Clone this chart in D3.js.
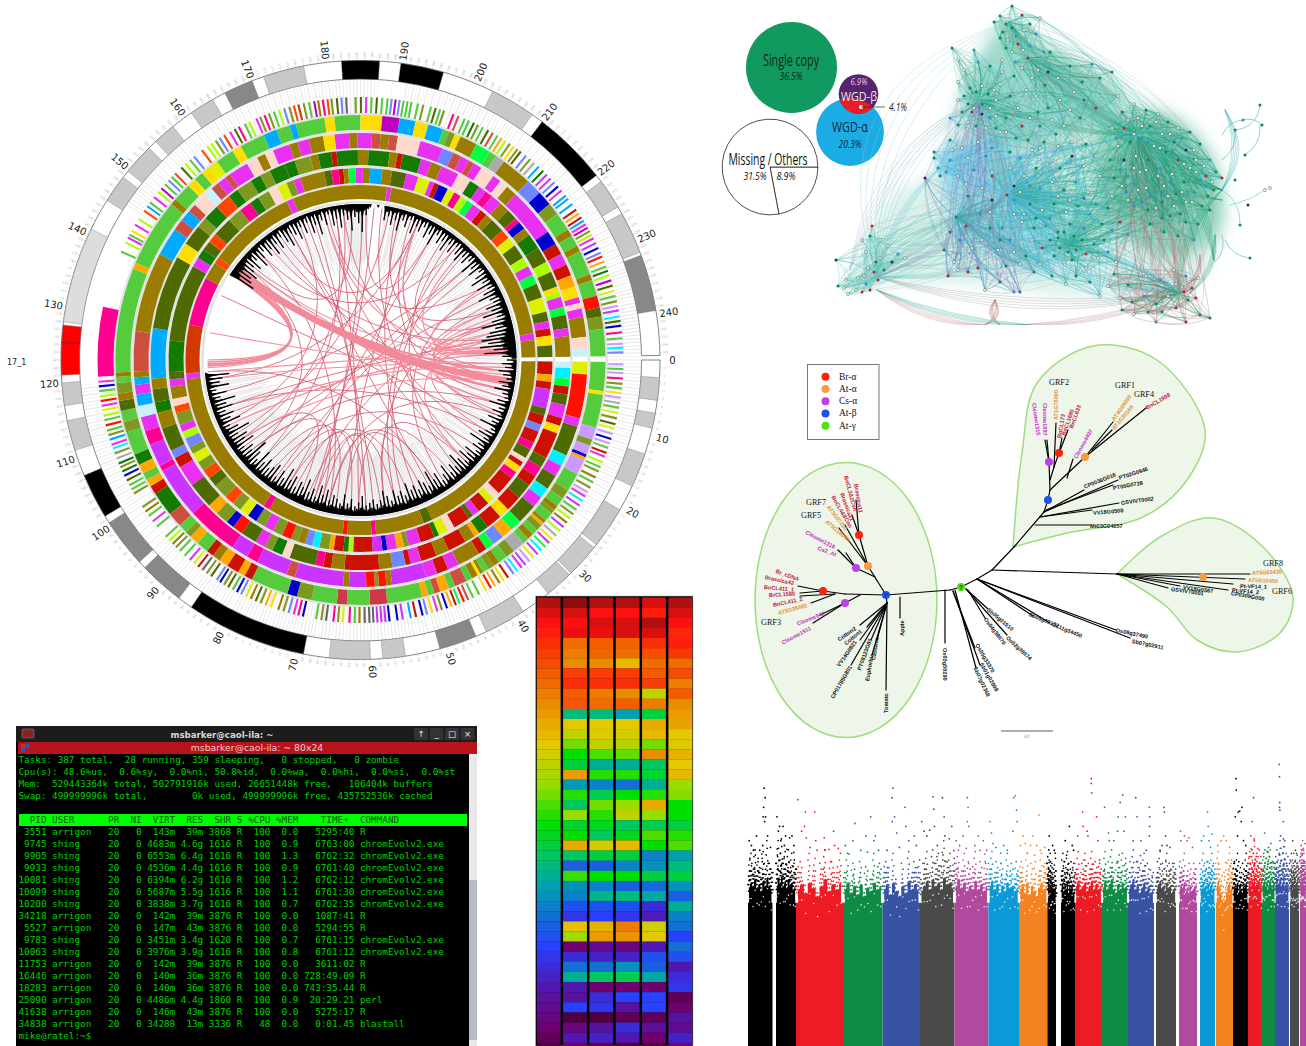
<!DOCTYPE html>
<html>
<head>
<meta charset="utf-8">
<title>Genome figure panels</title>
<script src="https://cdn.jsdelivr.net/npm/d3@7"></script>
<style>
  html, body { margin: 0; background: #fff; }
  svg { display: block; }
</style>
</head>
<body>
<svg width="1306" height="1046"></svg>
<script>
// ---------- circos data (positions in map units, 0-246 round the circle)
const ringPalette = {o:'#9a7d00',d:'#4f6a00',g:'#55cc3e',G:'#147a00',m:'#e830f0',M:'#cc33ff',p:'#ff0090',r:'#ff1000',R:'#cc1100',
  a:'#ffa800',y:'#ffdd00',Y:'#ddf000',l:'#aaff00',b:'#00aaff',B:'#0000cc',n:'#6f86ff',s:'#ffd8cc',c:'#c8f0ff',k:'#7e9820',
  f:'#00ff40',t:'#cc5040',h:'#aaaaaa',C:'#00f0ff',u:'#d03848',A:'#d03a00',N:'#ff4500',V:'#c000c0',L:'#cc99ff',w:'#ffffff',x:'#666666'};

const ideogramBands = [[2.3,5.3,'#c8c8c8'],[7,9,'#c8c8c8'],[12.5,17,'#c8c8c8'],[20.5,26,'#c8c8c8'],[26.5,31,'#c8c8c8'],[31.3,35,'#c8c8c8'],
  [39,44.5,'#c8c8c8'],[46,51,'#888888'],[55.6,58.6,'#c8c8c8'],[60.2,65.6,'#c8c8c8'],[69,85,'#000000'],[87,93,'#888888'],[94,100.5,'#888888'],
  [101.5,107.5,'#000000'],[111,115,'#c8c8c8'],[117,120,'#c8c8c8'],[121,127.6,'#ff0000'],[128,140.7,'#dddddd'],[145,148.7,'#c8c8c8'],
  [149.7,153.8,'#c8c8c8'],[155,158,'#c8c8c8'],[161,164.3,'#c8c8c8'],[166.1,170,'#888888'],[171.6,177,'#c8c8c8'],[182,187,'#000000'],
  [189.8,195.5,'#000000'],[202.4,208.4,'#c8c8c8'],[210,220,'#000000'],[221,225,'#c8c8c8'],[226,231.6,'#c8c8c8'],[232,239.5,'#888888']];

const ring2 = [0.3,'g',5,'y',5.6,'g',11,'L',13,'k',14,'L',15.5,'B',16,'a',16.5,'L',19,'g',22,'k',23.5,'g',25,'o',25.8,'k',26.5,'g',28,'o',28.5,'a',29,'k',30,'g',31,'o',32,'g',33,'h',35,'k',36.5,'g',38,'o',39,'k',40,'g',41,'o',41.5,'y',42,'o',43,'g',44,'t',46,'g',47,'a',48.5,'t',49.5,'g',50.5,'a',51.5,'g',57.2,'u',60,'g',63.7,'u',65.3,'g',69.4,'k',71.8,'B',73.4,'g',79.5,'R',80.8,'a',82,'R',84,'a',85.5,'o',86.8,'R',88,'g',90,'a',91.5,'k',92.5,'g',94,'t',96.4,'G',100.4,'R',101.8,'a',103,'g',104.2,'a',105.7,'G',107.5,'g',111.3,'k',113,'g',114.8,'d',116.4,'o',117.6,'k',119.3,'g',120.3,'o',121,'g',138,'a',139,'g',150,'o',151,'g',154,'y',155.5,'g',157,'y',158.5,'Y',160,'g',163,'y',164.5,'g',168.6,'b',170.8,'g',173,'b',174,'g',178.7,'y',180.3,'g',184.5,'y',188,'V',190.8,'b',193.4,'y',195.5,'b',198,'g',199,'k',200,'y',201,'o',203.8,'f',206.2,'g',207.5,'h',209,'o',214,'n',216.6,'B',219,'k',221,'g',224,'o',225.2,'g',227,'o',228,'g',232,'o',233,'g',235.6,'r',237.5,'d',239,'k',241,'g'];
const ring3 = [0.3,'Y',2.5,'r',10.2,'m',11.7,'d',17,'C',19,'m',21,'d',23.6,'C',25.5,'m',27.5,'d',31,'f',33,'a',35,'n',37,'f',38.5,'R',40,'o',44,'m',46,'R',48,'m',50,'M',56,'o',57,'r',58.3,'k',59,'r',60.5,'M',63.5,'o',64.5,'M',73,'t',74.5,'M',80,'p',82,'M',85,'p',94,'M',103,'p',104,'M',108,'p',110.5,'m',113,'c',115,'b',117,'m',118.7,'b',120,'o',121,'t',128,'o',142,'b',147,'t',149,'b',151,'t',152.5,'s',155,'c',156.5,'t',158,'m',159.5,'t',160.5,'m',164,'s',166,'o',167.5,'s',169,'m',172,'o',173.5,'m',175.5,'o',178,'y',180,'m',182.5,'o',184,'m',186.5,'t',188,'o',189.5,'t',191,'s',195,'m',199,'n',201,'t',202.5,'m',204,'t',205,'m',206.5,'s',209,'m',210.5,'s',212,'o',214,'m',222.5,'B',225,'R',227,'m',229,'R',231,'a',233,'y',235,'m',236,'s',237,'m',238.5,'o',242,'s',244,'c'];
const ring4 = [0.3,'c',1.5,'C',3.5,'f',5,'R',6.5,'d',8.5,'m',11,'R',12.5,'y',14,'R',19,'d',21,'p',23,'R',25,'d',28,'R',31,'y',33,'R',36,'G',38,'a',39,'o',41,'R',44.5,'o',47,'R',50,'m',52,'R',53,'n',55.5,'o',58,'R',64.5,'o',67,'R',68.5,'p',70,'d',75,'s',76.5,'G',78.5,'k',80,'m',82,'d',85,'r',87,'B',88.5,'k',91,'a',93,'d',98,'m',102,'R',104,'n',105.5,'d',110,'o',113,'G',115,'d',117.5,'o',119.5,'b',129,'d',143,'y',146,'d',150,'k',152,'G',155,'N',158,'G',160,'k',163,'G',165,'k',167,'G',170,'G',172,'k',175,'o',176.5,'G',179,'R',180,'G',184,'o',186,'G',190,'o',191.5,'R',192.5,'G',196,'m',198,'o',200,'m',203.5,'s',206,'G',208,'m',209.5,'p',211,'m',213,'o',215,'d',217,'p',218,'B',219.5,'o',221,'G',224,'d',227,'l',229,'d',232,'y',233,'l',234,'m',236,'f',237.5,'d',240,'m',241.5,'o'];
const ring5 = [0.3,'R',3,'a',4.5,'R',6,'M',10,'d',11.5,'R',13.5,'n',15,'R',17.5,'p',19,'d',21,'s',22,'R',23,'y',24.5,'p',26,'R',30,'s',31.5,'Y',33,'R',35.5,'m',37,'d',38,'R',41.5,'s',43,'Y',45,'G',46,'R',49,'m',51.5,'k',52.5,'a',54,'m',56,'B',57,'M',59,'R',63,'l',64,'G',65,'R',67,'a',68,'k',70,'C',71.5,'n',73,'o',74.5,'k',76,'r',78,'k',80,'m',82,'k',84,'B',86,'Y',88,'k',90,'N',92,'k',95,'d',97,'N',99,'k',101,'Y',103,'k',104.5,'n',106.5,'l',108,'m',109.5,'k',112,'N',113.5,'s',115,'o',117.5,'m',119,'d',120.5,'G',127,'d',143,'m',145,'G',147,'d',149,'N',151,'d',155,'k',158,'p',160.5,'G',162.5,'k',165,'s',167,'Y',169,'k',170.5,'m',172,'o',177,'d',178.5,'p',180,'R',181,'o',182,'f',183.5,'m',185,'o',186.5,'b',189,'o',191,'d',194,'m',196.5,'Y',199,'m',200,'R',201,'B',203,'Y',204.5,'p',206,'l',207.5,'f',209,'m',211,'R',212.5,'o',214,'d',217,'N',219,'Y',221,'d',224,'l',226,'m',228,'f',230,'d',233,'Y',236,'d',238,'m',239.5,'R',241,'y',243,'d'];
const ring6 = [0.3,'o',45,'d',47,'o',58,'p',59,'o',64.5,'r',65.5,'o',83,'p',84.5,'o',118.7,'m',120,'A',131,'p',142,'o',146,'N',147.5,'o',167.5,'m',169,'o',190.5,'m',191.5,'o',240,'m',241.5,'o'];
const ringStacks = [[ring2,230,245],[ring3,212,227],[ring4,195,210],[ring5,177,192],[ring6,161,175]];

// sparse outer ring: one solid block and many thin stripes [position, colour]
const ring1Block = [120.5,131,'p'];
const ring1Stripes = [[0.5,'L'],[1.2,'g'],[1.8,'L'],[2.6,'p'],[3.4,'k'],[4.1,'g'],[4.8,'y'],[5.5,'L'],[6.3,'h'],[7,'g'],[7.8,'Y'],[8.6,'k'],[9.5,'d'],[10.2,'Y'],[11,'L'],[11.8,'B'],[12.5,'L'],[13.2,'g'],[14,'R'],[14.6,'m'],[15.5,'l'],[16.3,'g'],[17,'k'],[18,'o'],[18.8,'g'],[19.7,'k'],[20.5,'L'],[21.2,'m'],[22,'C'],[22.8,'M'],[23.6,'g'],[24.4,'k'],[25.2,'l'],[26,'o'],[26.8,'M'],[27.6,'l'],[28.5,'h'],[29.3,'Y'],[30,'m'],[30.8,'f'],[31.6,'C'],[32.4,'M'],[33.2,'Y'],[34,'L'],[34.8,'M'],[35.5,'m'],[36.3,'C'],[37,'n'],[38,'R'],[38.8,'Y'],[39.5,'o'],[40.3,'a'],[41,'r'],[41.8,'y'],[43,'g'],[44,'g'],[44.8,'t'],[45.5,'r'],[46.2,'f'],[46.8,'R'],[47.5,'a'],[48.2,'B'],[49,'k'],[49.7,'m'],[50.5,'y'],[51.3,'n'],[52,'B'],[53,'R'],[53.8,'b'],[55,'M'],[55.8,'B'],[56.5,'w'],[57,'B'],[57.6,'M'],[58.2,'M'],[58.8,'M'],[59.4,'x'],[60,'x'],[60.7,'x'],[61.5,'o'],[62.2,'g'],[63,'p'],[64,'Y'],[64.7,'k'],[65.4,'p'],[66.5,'x'],[67.2,'k'],[68,'g'],[70,'B'],[70.7,'p'],[71.4,'m'],[72.2,'n'],[73,'k'],[73.8,'o'],[75,'y'],[75.8,'a'],[76.6,'k'],[77.4,'d'],[78.2,'o'],[79,'Y'],[79.8,'n'],[80.5,'B'],[81.2,'g'],[82,'d'],[82.7,'k'],[83.4,'B'],[84,'n'],[85,'d'],[85.8,'k'],[86.6,'x'],[87.4,'R'],[88.2,'Y'],[89,'m'],[90,'g'],[91,'g'],[91.8,'k'],[92.5,'o'],[93.2,'l'],[94,'g'],[96,'g'],[97,'m'],[98,'g'],[98.8,'o'],[99.6,'k'],[102,'k'],[102.7,'g'],[103.4,'g'],[104.2,'d'],[105,'B'],[105.7,'G'],[106.4,'k'],[107,'G'],[107.8,'h'],[108.6,'k'],[109.4,'C'],[110,'m'],[110.8,'b'],[111.5,'k'],[112.2,'g'],[113,'r'],[113.8,'g'],[114.5,'l'],[115.3,'Y'],[116,'m'],[116.7,'r'],[117.4,'l'],[118.2,'g'],[118.9,'B'],[119.6,'m'],
  [139.5,'g'],[141,'l'],[141.8,'m'],[142.3,'g'],[143,'y'],[144,'m'],[145,'l'],[146.5,'N'],[147.3,'b'],[148,'g'],[149,'m'],[150,'l'],[150.7,'V'],[151.5,'g'],[152.3,'n'],[153,'g'],[153.7,'N'],[155,'d'],[155.8,'l'],[156.7,'g'],[157.5,'n'],[159,'N'],[160,'l'],[160.7,'l'],[161.5,'k'],[162.2,'n'],[163,'N'],[164,'m'],[164.8,'d'],[165.5,'p'],[166.5,'g'],[167.2,'l'],[168.4,'m'],[169,'k'],[169.7,'p'],[170.4,'k'],[171.2,'g'],[172,'l'],[172.8,'n'],[173.6,'k'],[174.3,'N'],[175,'A'],[175.8,'k'],[176.6,'g'],[177.4,'V'],[178,'o'],[178.7,'p'],[179.4,'N'],[180,'k'],[180.8,'d'],[181.5,'n'],[182.2,'x'],[183.6,'k'],[184.4,'d'],[185.2,'m'],[186,'g'],[186.8,'d'],[187.6,'g'],[188.4,'g'],[189,'n'],[189.6,'V'],[190.2,'n'],[190.8,'g'],[191.4,'g'],[192,'g'],[193,'g'],[193.8,'k'],[195,'g'],[195.7,'d'],[196.4,'g'],[197,'k'],[198.5,'p'],[199.3,'t'],[200.3,'g'],[201,'g'],[201.8,'G'],[202.5,'k'],[203.3,'g'],[204.2,'d'],[205,'t'],[205.8,'g'],[206.5,'a'],[207.2,'l'],[208,'k'],[208.7,'y'],[209.4,'k'],[210,'d'],[211,'n'],[211.8,'k'],[212.6,'h'],[213.5,'b'],[214.4,'G'],[215.2,'M'],[216,'m'],[216.8,'n'],[217.6,'B'],[218.4,'m'],[219.4,'b'],[220,'b'],[221,'b'],[222,'R'],[222.7,'a'],[223.4,'R'],[224,'b'],[224.6,'m'],[225.2,'V'],[225.8,'k'],[226.4,'l'],[227,'m'],[227.8,'M'],[228.6,'B'],[229.4,'n'],[230,'r'],[230.8,'a'],[231.6,'g'],[232.3,'G'],[233,'l'],[233.8,'V'],[234.6,'d'],[235.4,'Y'],[236.2,'g'],[237,'k'],[237.7,'L'],[238.4,'M'],[239.3,'C'],[240,'d'],[240.7,'B'],[241.7,'p'],[242.6,'g'],[243.4,'L'],[244,'C'],[244.7,'n']];

// spike track, one value every half map unit
const spikeValues = [12,4,18,6,14,3,22,7,16,5,11,3,20,8,15,4,24,6,13,5,
9,3,17,6,26,4,12,5,19,7,10,3,21,5,14,8,28,6,11,4,
16,5,23,7,13,4,30,8,15,5,20,6,12,4,25,7,18,5,27,9,
14,6,22,5,32,8,17,6,24,7,15,5,29,9,19,6,13,5,26,8,
20,7,34,9,16,6,23,8,28,10,18,7,25,9,21,8,31,10,17,7,
24,9,19,8,27,10,15,8,22,9,29,11,18,9,14,8,20,10,16,8,
13,8,25,10,17,9,12,7,21,10,15,8,26,11,14,8,19,9,23,10,
16,8,28,11,20,9,31,10,15,8,24,9,18,7,33,11,21,8,26,9,
17,7,29,10,22,8,35,9,19,7,27,9,15,6,30,8,23,7,18,6,
28,8,20,6,33,9,16,5,25,7,38,8,19,6,24,7,14,5,31,8,
21,6,27,7,17,5,35,8,22,6,13,4,29,7,18,5,24,6,15,4,
26,6,19,4,32,7,14,4,23,5,11,3,28,6,17,4,21,5,30,3,
0,0,0,0,0,0,0,0,0,0,0,0,0,0,0,0,0,0,0,0,0,0,0,0,0,0,0,0,0,0,0,0,0,0,0,0,0,0,0,0,0,0,0,0,0,0,0,0,0,0,0,0,
34,12,28,8,24,10,30,9,
22,7,18,5,26,8,15,4,29,7,20,5,13,4,24,6,17,4,28,7,
16,4,25,6,12,3,22,6,30,7,15,4,19,5,27,6,13,4,23,5,
11,3,26,5,17,4,31,6,14,3,21,5,9,3,24,5,16,4,28,5,
13,7,19,9,33,8,16,10,24,9,35,8,14,6,4,0,0,0,3,0,
0,0,18,7,12,5,22,6,15,4,27,6,13,4,20,5,9,3,25,5,
14,4,19,5,11,3,23,5,16,4,28,6,12,3,21,5,15,4,26,6,
13,4,22,5,10,3,18,5,24,6,14,4,20,5,12,3,27,6,16,4,
23,6,11,4,19,5,28,7,15,5,25,6,13,4,21,6,30,8,17,5,
14,5,26,8,20,6,33,9,16,6,24,8,38,12,22,8,30,10,35,12,
42,18,34,14,45,16,28,10,40,12,18,6];
// how far the grey spokes reach, one value every 5 map units
const spokeReach = [54,54,57,59,61,63,63,66,66,68,66,64,64,64,64,66,63,63,62,61,62,61,61,61,0,0,0,0,0,23,37,46,52,57,61,64,66,63,63,63,63,61,59,57,57,55,54,52,50,50];

const thinLinks = [[60,85],[64,80],[68,90],[56,72],[52,74],[72,96],[78,100],[44,66],[40,70],[48,82],[35,62],[30,55],[25,88],[20,110],[15,70],[12,96],[10,160],[5,180],[3,200],[8,150],[18,140],[22,175],[28,190],[33,210],[38,225],[42,165],[46,195],[50,215],[55,230],[58,170],[62,178],[66,200],[70,155],[74,185],[76,235],[82,205],[86,220],[92,178],[95,150],[98,228],[102,192],[106,168],[110,240],[114,218],[118,200],[120,40],[151,182],[155,212],[158,240],[162,200],[165,30],[172,60],[176,225],[180,100],[186,205],[188,75],[194,232],[198,15],[208,236],[212,52],[218,92]];
const lightLinks = [[243,200],[243.5,214],[244,226],[244.5,175],[244,150],[243,120],[244,105],[1,118],[2,108],[4,130],[6,100],[232,10],[238,20],[240,30],[236,14],[234,8],[244,236],[244.5,238],[243.5,232],[244.5,1],[243,3],[242,240]];
const bundleLinks = [[147,6,5],[148,5,3],[146.5,8,2.5],[147.5,3,2],[148.5,12,1.5],[146,122,2],[146.5,121.5,1.6],[147,122.5,1.4],[147.5,123,1.2],[148,121,1]];

// ---------- terminal text
const terminalHeader = [
  'Tasks: 387 total,  28 running, 359 sleeping,   0 stopped,   0 zombie',
  'Cpu(s): 48.6%us,  0.6%sy,  0.0%ni, 50.8%id,  0.0%wa,  0.0%hi,  0.0%si,  0.0%st',
  'Mem:  529443364k total, 502791916k used, 26651448k free,   106404k buffers',
  'Swap: 499999996k total,        0k used, 499999996k free, 435752536k cached'];
const terminalColumns = '  PID USER      PR  NI  VIRT  RES  SHR S %CPU %MEM    TIME+  COMMAND';
const terminalRows = [
  ' 3551 arrigon   20   0  143m  39m 3868 R  100  0.0   5295:40 R',
  ' 9745 shing     20   0 4683m 4.6g 1616 R  100  0.9   6763:00 chromEvolv2.exe',
  ' 9905 shing     20   0 6553m 6.4g 1616 R  100  1.3   6762:32 chromEvolv2.exe',
  ' 9933 shing     20   0 4536m 4.4g 1616 R  100  0.9   6761:40 chromEvolv2.exe',
  '10081 shing     20   0 6394m 6.2g 1616 R  100  1.2   6762:12 chromEvolv2.exe',
  '10099 shing     20   0 5687m 5.5g 1616 R  100  1.1   6761:30 chromEvolv2.exe',
  '10200 shing     20   0 3838m 3.7g 1616 R  100  0.7   6762:35 chromEvolv2.exe',
  '34218 arrigon   20   0  142m  39m 3876 R  100  0.0   1087:41 R',
  ' 5527 arrigon   20   0  147m  43m 3876 R  100  0.0   5294:55 R',
  ' 9783 shing     20   0 3451m 3.4g 1620 R  100  0.7   6761:15 chromEvolv2.exe',
  '10063 shing     20   0 3976m 3.9g 1616 R  100  0.8   6761:12 chromEvolv2.exe',
  '11753 arrigon   20   0  142m  39m 3876 R  100  0.0   3611:02 R',
  '16446 arrigon   20   0  140m  36m 3876 R  100  0.0 728:49.09 R',
  '18283 arrigon   20   0  140m  36m 3876 R  100  0.0 743:35.44 R',
  '25090 arrigon   20   0 4486m 4.4g 1860 R  100  0.9  20:29.21 perl',
  '41638 arrigon   20   0  146m  43m 3876 R  100  0.0   5275:17 R',
  '34838 arrigon   20   0 34288  13m 3336 R   48  0.0   0:01.45 blastall'];

// ---------- heat map, cells hold the rank of the colour in the first column
const heatRows = d3.range(45);
const heatColumns = [
  heatRows,
  [-1,1,2,1.5,8,9,10,5,4,7,6.5,26,14,16,19,22,24,11,28.5,21,25,18,23.5,22,12,25,32,20.5,29,30,33,35,13.5,17.5,42,36,31,27,38,39,34,44,41,38,42],
  [0,2,1,1.5,7,7.5,10,5,4,9,8,26,14,14.5,16,20,27,21,30,24.5,19,21,23,25,15,24,32,22,30,26.5,33,34,12.5,11,40,37,31,25,42,36,35,44,39,37,43],
  [0,2,1,1,7.5,8,13,5,4,10,7,28,14,15,16.5,19.5,27,21,31,22,18,16,25,23,13,24,30,22,32,26,33,35,9,10.5,41,37,29,24.5,42,34,39,43,36,38,44],
  [1,3,0,1,4,6,8,7,5,16,9,24,12,13,19,10,25,23.5,27,21,12,18,24.5,20,22,30,29,24,31.5,27.5,36,37.5,15,14,38,33,32,27.5,42,34,34,43,39.5,42,44],
  [0,1,2,3.5,3,4.5,8,6,9,7,10,11,11.5,14,14.5,12.5,14,13,18,18.5,22,22,24,21,20,28,26,24,29,32,27,30,31,34,31,33,38,36,35,43,42,39,40,37,41]];
const heatStops = ['#8a1010','#b01010','#ff1010','#f84c00','#ea8c00','#e4c800','#98dc00','#00e000','#00c860','#00a0b0','#1860e0','#2840ff','#5018b0','#700070','#500040'];
const heatStopRanks = [-1,0,2,6,10,14,18,22,25,28,32,34,38,42,44];

// ---------- bubble diagram
const bubbleShares = {single:36.5, alpha:20.3, beta:6.9, missing:31.5, others:8.9, overlap:4.1};

// ---------- network, coordinates on the page-wide network plane
const netCats = ['#ffffff','#12845a','#2f8fc9','#c2202e','#3d1f5c'];
const netHubs = [[1009,22],[1028,58],[979,100],[1137,135],[943,165],[1007,195],[1067,245],[1179,293],[877,277],[956,217]];
const netGroups = [
  {hub:0,alt:1,col:['#25a07a','#58c0b8'],nodes:[[1000,16,1],[1012,6,1],[1022,15,3],[1006,24,1],[1012,28,1],[1003,32,1],[1016,36,2],[1008,40,0],[1000,38,1],[1024,30,0],[1030,24,1],[1018,44,3],[1006,48,1],[1012,52,0],[1030,46,2],[1023,50,0],[994,22,1],[1036,34,2],[1044,52,2],[1040,18,0]]},
  {hub:1,alt:3,col:['#1f9a72','#3fb5a8'],nodes:[[1028,58,3],[1038,70,0],[1050,52,1],[1070,66,1],[1058,78,0],[1045,85,1],[1032,78,0],[1022,68,0],[1015,62,2],[1082,82,1],[1092,64,2],[1074,92,0],[1060,100,0],[1048,108,1],[1100,78,1],[1112,72,1],[1118,96,0],[1096,108,3],[1080,118,1],[1064,126,0],[1048,72,4],[1036,96,0]]},
  {hub:2,alt:5,col:['#22986e','#5cc4b8'],nodes:[[964,96,1],[970,88,1],[976,92,1],[982,86,0],[988,94,1],[994,90,0],[968,104,1],[974,108,0],[982,104,1],[990,108,0],[996,100,0],[972,112,3],[982,114,4],[990,118,2],[996,116,0],[958,60,0],[952,48,1],[964,70,0],[978,62,2],[990,66,1],[1002,72,0],[1000,84,0],[1010,96,1],[1018,108,0],[1006,118,1],[1022,126,3],[974,50,2],[958,82,0]]},
  {hub:3,alt:6,col:['#179268','#2fa88a'],nodes:[[1122,112,1],[1134,104,0],[1146,110,1],[1158,114,0],[1168,122,1],[1178,128,0],[1190,132,1],[1200,144,1],[1210,160,2],[1216,172,1],[1222,178,3],[1112,128,0],[1124,128,3],[1138,118,0],[1150,126,1],[1162,134,0],[1174,142,1],[1186,150,4],[1196,160,0],[1206,176,3],[1214,190,1],[1118,146,0],[1130,142,1],[1142,138,2],[1154,146,0],[1166,152,1],[1178,160,3],[1190,168,0],[1200,180,2],[1208,196,1],[1110,160,1],[1124,160,4],[1136,156,0],[1148,160,1],[1160,168,2],[1172,174,0],[1184,182,1],[1194,192,2],[1202,206,1],[1100,176,0],[1114,178,1],[1128,176,2],[1140,172,0],[1152,180,2],[1164,186,0],[1176,194,1],[1186,202,0],[1112,196,0],[1126,192,2],[1138,190,0],[1150,196,2],[1162,202,1],[1174,206,0],[1134,206,2],[1148,210,1],[1162,218,1]]},
  {hub:4,alt:5,col:['#36b0e0','#62c8ea'],nodes:[[934,158,1],[938,168,2],[946,172,2],[950,160,2],[940,176,1],[952,150,0],[962,148,0],[968,158,0],[974,170,2],[958,176,0],[986,156,2],[992,172,0],[934,152,1],[966,184,0],[982,188,0],[950,140,1],[978,142,0],[992,148,2],[1000,132,0],[1010,152,1]]},
  {hub:5,alt:6,col:['#2aa0c4','#3ebfa8'],nodes:[[1007,195,3],[1014,186,4],[1024,176,0],[1036,168,1],[1048,160,0],[1060,168,1],[1072,156,4],[1084,166,0],[1040,188,2],[1052,182,0],[1064,190,1],[1076,182,2],[1088,192,0],[1030,204,1],[1042,210,0],[1054,204,1],[1066,212,0],[1078,206,1],[1090,214,2],[1102,224,1],[1022,222,0],[1034,228,1],[1046,226,2],[1058,232,1],[1014,214,0],[1002,228,2],[992,176,3]]},
  {hub:6,alt:7,col:['#169a70','#46b8c0'],nodes:[[1050,240,1],[1058,238,1],[1064,232,1],[1074,236,1],[1082,240,1],[1060,248,1],[1068,252,1],[1076,250,1],[1086,254,3],[1054,256,1],[1064,262,0],[1072,260,1],[1042,248,3],[1032,240,0],[1094,244,1],[1104,240,1],[1112,230,2],[1098,258,0],[1108,252,2],[1120,222,3],[1128,234,2],[1116,262,0],[1086,268,0],[1076,276,1]]},
  {hub:7,alt:3,col:['#1c9a72','#b06a6a'],nodes:[[1128,285,1],[1120,298,0],[1132,302,1],[1144,296,2],[1156,304,1],[1168,296,0],[1176,284,0],[1184,292,3],[1192,288,3],[1198,278,0],[1188,300,1],[1176,308,3],[1162,312,1],[1148,312,1],[1134,314,0],[1122,310,1],[1196,298,3],[1174,270,0],[1160,280,2],[1146,276,0],[1108,286,0],[1200,315,1],[1186,322,3],[1156,322,2],[1210,318,1],[1186,276,2],[1114,274,1]]},
  {hub:8,alt:9,col:['#4ab8b0','#7ac8c0'],nodes:[[858,278,0],[846,280,0],[844,288,0],[848,294,0],[856,290,0],[864,276,0],[868,268,0],[874,272,3],[866,284,2],[878,280,3],[870,290,3],[862,292,3],[880,258,0],[866,252,0],[862,240,0],[872,226,3],[870,236,1],[880,240,0],[876,262,1],[888,246,0],[884,270,1],[838,286,1],[836,260,4],[892,262,4],[898,254,2],[905,258,0]]},
  {hub:9,alt:2,col:['#2ea2c0','#8a6fb0'],nodes:[[956,217,1],[950,232,1],[944,250,1],[954,262,0],[948,276,3],[958,270,0],[968,272,3],[978,268,3],[960,240,2],[966,226,3],[972,248,0],[982,240,0],[990,228,1],[998,250,0],[1010,240,2],[1006,266,1],[1020,264,0],[1034,272,1],[1000,282,1],[985,290,0],[1014,292,2],[992,200,4],[980,214,2],[925,178,4],[968,196,1],[1020,292,1]]},
  {hub:3,alt:5,col:['#1a9a70','#2ca890'],nodes:[[1128,120,0],[1142,126,0],[1156,122,0],[1170,134,0],[1182,138,2],[1194,150,0],[1204,166,0],[1212,182,0],[1116,138,2],[1134,134,0],[1148,142,2],[1160,148,0],[1172,152,2],[1184,164,0],[1196,172,0],[1206,186,2],[1120,170,2],[1134,168,0],[1146,170,0],[1158,176,0],[1170,182,2],[1182,192,0],[1192,202,0],[1122,186,0],[1134,184,2],[1146,188,0],[1156,192,2],[1168,196,0],[1180,214,1],[1128,200,0],[1142,202,2],[1156,208,0],[1170,216,1],[1186,222,1],[1198,224,1],[1210,210,1],[1150,224,1],[1164,232,1],[1178,236,1],[1194,240,2]]},
  {hub:5,alt:9,col:['#38aede','#2fb0a0'],nodes:[[1010,168,0],[1020,158,2],[1032,150,0],[1044,142,1],[1058,146,0],[1072,142,0],[1086,144,1],[1096,156,0],[1020,192,0],[1030,186,2],[1058,196,0],[1070,200,0],[1084,198,1],[1096,204,2],[1108,208,1],[1014,200,2],[1024,214,0],[1036,218,1],[1050,218,2],[1070,224,1],[1084,228,2],[990,212,0],[1000,240,1],[1014,252,0],[1026,256,1],[1040,264,0],[1052,276,1],[1066,284,0],[1090,282,1],[1100,296,0]]},
  {hub:2,alt:4,col:['#28a080','#8ad4e8'],nodes:[[958,100,0],[962,112,1],[968,122,0],[976,126,1],[986,128,0],[996,128,1],[1006,132,0],[1016,138,1],[1030,118,0],[1040,126,1],[1052,120,0],[1028,140,1],[1040,148,0],[1056,134,1],[1070,110,0],[1084,100,1],[1002,60,0],[1014,76,1],[1026,90,0],[1038,112,1],[958,125,1],[950,118,2]]}
];
const netArcs = [[1009,22,1222,190,.12,'#5cc4b8'],[1009,22,1137,135,.1,'#2aa07a'],[1028,58,1137,135,.08,'#1f9a72'],[1028,58,1222,190,.1,'#2aa07a'],[979,100,1137,135,.1,'#1f9a72'],[979,100,1222,200,.14,'#24a07a'],[943,165,877,277,.16,'#58bcd0'],[979,100,877,277,.3,'#7accc8'],[1009,22,877,277,.4,'#8ad4cc'],[979,100,850,270,.22,'#b0b0d8'],[1137,135,1222,190,.2,'#179268'],[1137,135,1214,260,-.24,'#179268'],[1225,110,1222,190,-.3,'#1aa0a0'],[1179,293,1222,190,-.22,'#1a9a6a'],[1179,293,1137,135,.1,'#c07a7a'],[1179,293,1067,245,.12,'#2fb0d8'],[1067,245,1007,195,.1,'#2aa0d0'],[1007,195,943,165,.06,'#58c0ea'],[943,165,1137,135,.04,'#58c0ea'],[956,217,1179,293,.14,'#3ab0c0'],[877,277,1179,293,.12,'#9a9a9a'],[877,277,1067,245,.1,'#5cc4b8'],[877,277,1007,195,.1,'#6a7fc0'],[956,217,1007,195,.2,'#8a6fb0'],[985,325,995,300,.5,'#b06a6a'],[1000,325,995,300,-.5,'#b06a6a'],[1020,325,1179,293,.1,'#c08a8a'],[877,290,985,325,.15,'#d08a8a'],[877,290,1030,325,.1,'#40b0a0'],[1179,293,1200,255,.35,'#b06a6a'],[1190,293,1215,235,.25,'#1a9a6a']];
const netSatellites = [[1235,130,1260,105,.4,'#3ab0a0'],[1222,160,1235,130,.3,'#3ab0a0'],[1222,135,1243,120,-.3,'#3ab0a0'],[1242,120,1262,125,-.3,'#3ab0a0'],[1245,155,1260,125,.3,'#3ab0a0'],[1230,205,1265,190,.1,'#58c0b8'],[1222,190,1240,225,-.3,'#58c0b8'],[1225,240,1250,258,.3,'#3ab0a0'],[1215,262,1222,235,.3,'#8a8ac0']];
const netSatelliteDots = [[1235,130,1],[1260,105,1],[1243,120,2],[1262,125,1],[1245,155,1],[1265,190,0],[1270,188,0],[1240,225,1],[1250,258,1],[1248,205,4],[1235,180,1]];
const netWash = [[842,288],[868,240],[892,195],[933,170],[960,85],[1005,28],[1028,28],[1120,90],[1178,112],[1216,152],[1224,190],[1226,232],[1194,285],[1150,300],[1060,296],[980,286],[885,285]];
const netLobeRight = [[1102,124],[1170,116],[1218,172],[1218,232],[1180,258],[1124,238],[1094,180]];
const netLobeTop = [[966,92],[1005,24],[1038,44],[1124,94],[1098,128],[1005,146],[970,128]];
const netLobeSky = [[944,152],[1000,140],[1058,230],[1046,272],[958,228]];

// ---------- tree, coordinates on the tree plane
const treeEdges = [[886,595,950,590],[950,590,961,587],[945,590,945,643],[953,591,975,648],[953,591,980,665],[955,590,976,668],[966,589,988,609],[966,589,1007,635],[968,590,985,618],[961,587,977,579],[977,579,1033,616],[977,579,1050,623],[977,579,1116,630],[977,579,1130,638],[977,579,992,570],[992,570,1014,547],[1014,547,1044,512],[1044,512,1048,500],[992,570,1117,574],[1117,574,1250,574],[1117,574,1245,579],[1117,574,1233,584],[1117,574,1228,590],[1117,574,1180,586],[1117,574,1168,588],
  [1048,500,1050,490],[1050,490,1049,462],[1049,462,1045,440],[1049,462,1047,440],[1050,490,1085,457],[1050,480,1054,467],[1054,467,1056,423],[1054,467,1059,453],[1059,453,1062,438],[1059,453,1068,430],[1085,457,1113,422],[1085,457,1146,408],[1092,450,1112,430],[1067,478,1073,459],[1044,512,1084,490],[1044,512,1118,480],[1046,510,1113,485],[1040,517,1119,503],[1040,517,1092,510],[1035,525,1090,525],
  [886,595,868,566],[868,566,859,535],[859,535,856,500],[859,535,852,515],[868,566,845,525],[868,566,839,528],[875,577,856,568],[856,568,846,553],[856,568,838,550],[886,595,845,594],[845,594,823,591],[823,591,798,586],[823,591,800,593],[835,594,800,596],[835,594,811,603],[860,595,845,603],[845,603,820,615],[845,603,813,623],
  [887,603,860,625],[887,603,867,627],[887,603,860,640],[887,603,851,665],[887,603,871,640],[887,603,872,655],[887,603,877,640],[887,603,886,690],[886,595,887,603],[900,597,900,618]];
const treeNodes = [[961,587,'#50e010','?'],[886,595,'#2050f0','?'],[868,566,'#f79a44',''],[856,568,'#c040e8',''],[859,535,'#ff2010',''],[823,591,'#ff2010',''],[845,603,'#c040e8',''],[1203,577,'#f79a44',''],[1048,500,'#2050f0',''],[1049,462,'#c040e8',''],[1059,453,'#ff2010',''],[1085,457,'#f79a44','']];
const legendEntries = [['Br-α','#ff2010'],['At-α','#f79a44'],['Cs-α','#c040e8'],['At-β','#2050f0'],['At-γ','#50e010']];
const treeRed = '#c0203c', treeOrange = '#e09040', treeMag = '#c030c0', treeBlack = '#111';
const treeLabels = [['Brassica11',856,484,80,treeRed],['BoCL3&2Con',846,476,75,treeRed],['Brassica21',842,493,70,treeRed],['BoCL4&8Con',833,496,60,treeRed],['AT3G07260',828,506,52,treeOrange],['AT5G16050',826,521,40,treeOrange],['Cleome1316',806,532,28,treeMag],['Cs2_At',818,548,20,treeMag],['Br_cDNA',776,571,20,treeRed],['Brassica42',765,577,12,treeRed],['BoCL411_1',764,587,5,treeRed],['BrCL1580',769,595,-3,treeRed],['BoCL411_2',773,605,-12,treeRed],['AT5G38480',778,613,-15,treeOrange],['Cleome942',797,624,-22,treeMag],['Cleome1911',782,643,-28,treeMag],
  ['Cotton2',838,640,-35,treeBlack],['Cotton1',845,644,-40,treeBlack],['VV14G0821',838,666,-55,treeBlack],['CP01785G801',832,698,-60,treeBlack],['PT08123G80',859,670,-70,treeBlack],['Euphorbia',867,681,-80,treeBlack],['Cassava',873,660,-80,treeBlack],['Tomato',886,713,-90,treeBlack],['Apple',902,636,-90,treeBlack],['Os03g50290',945,648,90,treeBlack],
  ['AT1G78300',1056,420,-90,treeOrange],['Cleome1887',1045,403,90,treeMag],['Cleome1315',1034,403,82,treeMag],['BnCL173',1059,438,-80,treeRed],['BoCL1680',1063,435,-70,treeRed],['BnCL633',1071,428,-70,treeRed],['Cleome4407',1075,458,-60,treeMag],['AT4G09000',1113,420,-55,treeOrange],['AT1G35160',1113,429,-50,treeOrange],['BnCL1998',1146,408,-30,treeRed],['CP0036G016',1084,487,-22,treeBlack],['PT02G0946',1119,478,-18,treeBlack],['PT05G0728',1113,488,-10,treeBlack],['GSVIVT0002',1121,503,-8,treeBlack],['VV18G0508',1093,513,-5,treeBlack],['Mt03G04057',1090,526,0,treeBlack],
  ['AT5G65430',1252,573,-3,treeOrange],['AT5G10450',1248,580,2,treeOrange],['Pt-VF14_1',1240,586,2,treeBlack],['Pt-VF14_2',1232,590,5,treeBlack],['CP0309G000',1231,593,10,treeBlack],['VV18G0567',1183,587,8,treeBlack],['GSVIVT0001',1171,589,8,treeBlack],['Sb05g02102',1029,614,22,treeBlack],['Os11g34450',1052,624,22,treeBlack],['Os08g37490',1116,630,12,treeBlack],['Sb07g02911',1132,641,12,treeBlack],['Sb05g01910',988,609,40,treeBlack],['Os04g38670',985,618,53,treeBlack],['Os02g36074',1007,637,43,treeBlack],['Os05g33370',977,644,60,treeBlack],['Sb01g02998',981,663,60,treeBlack],['Sb07g02368',975,667,65,treeBlack]];
const grfLabels = [['GRF7',806,502],['GRF5',801,515],['GRF3',761,622],['GRF2',1049,382],['GRF1',1115,385],['GRF4',1134,394],['GRF8',1263,563],['GRF6',1272,591]];
const hullTop = [[1013,547],[1022,453],[1037,383],[1093,346],[1157,360],[1205,430],[1187,480],[1143,517],[1067,533],[1013,547]];
const hullRight = [[1117,574],[1160,537],[1213,518],[1263,547],[1293,597],[1280,633],[1237,652],[1197,640],[1167,607],[1117,574]];

// ---------- manhattan plot, positions in plot pixels-from-left, heights in -log10 p
const chromSpans = [[0,24.5],[28,48],[48,95],[95,134.6],[134.6,172],[172,206.5],[206.5,240.4],[240.4,271],[271,299.5],[299.5,308],[313,327],[327,354],[354,380],[380,406],[408,428],[431,449],[452,467],[468,485],[485,500],[500,514],[514,527],[527,541],[542,551],[552,558]];
const chromColors = ['#000000','#000000','#ed1c24','#0f8b44','#3953a4','#4a4a4a','#b04a9e','#0a9ad6','#f58220','#000000','#000000','#ed1c24','#0f8b44','#3953a4','#4a4a4a','#b04a9e','#0a9ad6','#f58220','#000000','#ed1c24','#0f8b44','#3953a4','#4a4a4a','#b04a9e'];
const chromTops = [
  [17.5,19,18,20,17.5,18.5,16.5,19.5,18,20.5,18,17],[18,20.5,19,21,18,19.5,17.5,20,18.5,19,17,18],
  [17,18.5,16,19,17.5,15,18,20,16.5,18.5,17,19],[17,19,16,18,15.5,18.5,15,17.5,16.5,19,17,18],
  [17,18.5,15.5,19,16.5,15,18,16,19.5,17,18.5,17],[16.5,18,19.5,17,20,18,19,17,20.5,18.5,19,17.5],
  [18,20,17.5,19,16.5,18,17,19.5,17,18.5,16.5,18],[18,19.5,17,18.5,16,18,16.5,19,17.5,18,16.5,17.5],
  [17,18.5,16,19,15.5,18,16.5,15,17.5,19,17,18],[18,20,17.5,19,17,18.5,16.5,18,17,16,17.5,16],
  [17.5,19,16.5,18.5,17,19.5,16,18,17,18.5,16,17],[18,19.5,17,18,19,16.5,18,19.5,17,18.5,17,18],
  [17.5,19.5,17,18.5,20,17,16,18.5,17,19,17.5,18],[17,18.5,20,17,18.5,16,17.5,19,16.5,18,16,17],
  [17,18.5,19.5,17.5,18,16.5,19,17.5,18,16,17,18],[17,18.5,17.5,19,16,17.5,16,18,16.5,17,18,16.5],
  [18,17,19,17.5,18,16.5,18.5,17,18,19,17,18],[18,19.5,18,16,14,11,14,16,18,19,17,18],
  [16.5,18,17.5,19,16,18.5,17,16,18,17.5,19,17],[18,19.5,18,20,19,21,18,19,18.5,20,18,17.5],
  [18,19,20,18,19.5,17,18.5,20,18,17,18.5,18],[18,20,18.5,19,20.5,18,19,21,18,19,18,17.5],
  [18,19,18.5,17,19,18,17,18.5,19,17.5,18,17],[18.5,19,20,18,19,20.5,18,19,18,17,18.5,18]];
const chromDots = [
  [[5,21.5],[14,21],[22,20.5],[35,22],[48,20.5],[60,21],[66,27],[62,24],[70,26],[64,25],[68,23.5],[80,22],[92,20.8],[30,20],[72,24]],
  [[5,24],[12,22.5],[24,21.5],[35,23],[42,21],[55,20.6],[68,21.8],[80,22],[90,21],[18,23],[48,22]],
  [[4,25.8],[12,22.5],[18,23],[20,24.5],[22,21.8],[40,24.5],[42,21.5],[45,20.5],[60,21.8],[62,20.5],[80,22.5],[82,21],[30,20.8],[70,20.6],[90,20.7]],
  [[6,21],[25,21.5],[30,23.3],[45,20.5],[58,22],[62,20.3],[70,24],[78,21.5],[90,20.5],[15,20.1],[82,22]],
  [[25,26],[28,27],[26,23.5],[32,24],[38,22.3],[60,25],[62,23],[70,21.5],[85,22],[90,21],[45,20.8],[12,20.5]],
  [[5,23.5],[12,22.5],[20,22],[28,22.6],[38,26.1],[40,24.8],[42,23],[65,26],[70,24],[72,22],[85,21.7],[92,23],[50,21]],
  [[5,21.5],[15,21],[25,22],[35,20.7],[38,26],[40,25],[38,23.5],[42,23],[60,21],[70,22],[75,20.5],[85,21.5],[95,20.5]],
  [[5,23.5],[10,22.3],[25,20.8],[40,20.2],[50,21],[62,20.5],[82,26],[88,26.2],[92,24.7],[94,23.5],[80,22.5],[15,21.2]],
  [[5,21],[15,22],[22,21.2],[40,21],[48,22],[62,21],[75,20.5],[90,20.8],[70,24.2],[55,20],[30,20.2]],
  [[20,22],[60,21],[80,20.5],[90,20.2]],
  [[30,21.5],[60,23],[80,21],[90,20.5],[40,20]],
  [[10,22],[28,24.5],[30,23],[60,28],[62,26.5],[45,22.5],[48,22],[80,24],[85,21.5],[60,27.5]],
  [[10,25],[25,22.3],[28,21.5],[60,22.5],[62,24],[80,26.3],[70,25.5],[90,24],[85,22.5],[45,21.5]],
  [[20,21.5],[30,26],[35,24],[82,25],[84,24],[83,23],[82,22],[50,21.5],[70,20.5]],
  [[40,25],[42,24.5],[48,22],[30,21],[55,21],[20,20.5],[70,20.8]],
  [[8,22.5],[10,21.5],[30,22],[45,21.5],[55,21.8],[75,20.8]],
  [[10,21.5],[25,22],[50,24.5],[55,23],[60,21.5],[70,20.8],[80,22.2]],
  [[10,21],[30,21.5],[45,22],[60,21.5],[80,20.8]],
  [[20,28],[22,26.8],[15,24],[35,24.5],[45,24.6],[60,25],[70,21.5],[85,21],[30,22],[55,23.5]],
  [[40,26],[20,22],[30,23.5],[45,21.5],[70,20.7]],
  [[20,22.3],[50,20.8],[70,21.2]],
  [[30,29.5],[32,28.2],[34,25.5],[32,25],[60,23.5],[40,22],[70,21.5],[35,24.7]],
  [[30,21.5],[60,20.5],[80,20]],
  [[20,21],[60,20.5],[85,21.2]]];

// ---------- drawing
const svg = d3.select('svg');
const mono = '"DejaVu Sans Mono", monospace';
const narrow = '"Liberation Sans Narrow", "Open Sans", sans-serif';

// circos ---------------------------------------------------------
const cx = 360.5, cy = 360;
const mapAngle = d3.scaleLinear().domain([0, 246]).range([Math.PI / 2, Math.PI / 2 + 2 * Math.PI]);
const spikeRadius = d3.scaleLinear().domain([0, 50]).range([156, 116]);
const spokeRadius = d3.scaleLinear().domain([0, 50]).range([156, 100]);
const circos = svg.append('g').attr('transform', `translate(${cx},${cy})`);
const segArc = d3.arc();
const drawSeg = (g, start, end, r0, r1, fill) => g.append('path')
  .attr('d', segArc({innerRadius: r0, outerRadius: r1, startAngle: mapAngle(start), endAngle: mapAngle(end)}))
  .attr('fill', fill);
const radial = (g, a, r0, r1) => {
  const p0 = d3.pointRadial(a, r0), p1 = d3.pointRadial(a, r1);
  return g.append('line').attr('x1', p0[0]).attr('y1', p0[1]).attr('x2', p1[0]).attr('y2', p1[1]);
};

// grey spokes below the marks, longer where the spike is taller
spikeValues.forEach((v, i) => {
  const u = i / 2;
  if (v === 0) return;
  const a = mapAngle(u);
  const reach = spokeReach[Math.min(49, Math.floor(u / 5))] * (0.72 + 0.28 * Math.min(v, 30) / 30);
  if (v > 5) radial(circos, a, spokeRadius(0), spokeRadius(reach)).attr('stroke', '#b4b4b4').attr('stroke-width', 0.8).attr('opacity', 0.45);
  radial(circos, a, 247, 281).attr('stroke', '#bbb').attr('stroke-width', 0.6).attr('opacity', v > 8 ? 0.6 : 0.3);
});

[176, 193.5, 211, 228.5, 246, 158].forEach(r => {
  circos.append('circle').attr('r', r).attr('fill', 'none').attr('stroke', '#e2e2e2').attr('stroke-width', 2.5);
});

// colour rings
ringStacks.forEach(([cells, r0, r1]) => {
  for (let i = 0; i < cells.length; i += 2) {
    const end = i + 2 < cells.length ? cells[i + 2] : 245.4;
    drawSeg(circos, cells[i], end, r0, r1, ringPalette[cells[i + 1]]);
  }
});
drawSeg(circos, ring1Block[0], ring1Block[1], 247, 263, ringPalette[ring1Block[2]]);
ring1Stripes.forEach(([u, c]) => drawSeg(circos, u, u + 0.32, 247, 263, ringPalette[c]));

// ideogram
circos.append('path')
  .attr('d', segArc({innerRadius: 281, outerRadius: 299.5, startAngle: mapAngle(0), endAngle: mapAngle(245.4)}))
  .attr('fill', '#fff').attr('stroke', '#666').attr('stroke-width', 0.8);
ideogramBands.forEach(([a, b, c]) => drawSeg(circos, a, b, 281, 299.5, c).attr('stroke', '#777').attr('stroke-width', 0.4));
radial(circos, mapAngle(125.3), 281, 299.5).attr('stroke', '#333').attr('stroke-width', 0.6);

// ticks and labels
d3.range(0, 246).forEach(u => {
  const a = mapAngle(u);
  radial(circos, a, 299.5, 301.5).attr('stroke', '#aaa').attr('stroke-width', 0.4);
  const deg = a * 180 / Math.PI - 90;
  const rot = deg > 90 && deg < 270 ? deg - 180 : deg;
  const major = u % 10 === 0;
  const p = d3.pointRadial(a, major ? 312 : 305);
  circos.append('text').text(u)
    .attr('transform', `translate(${p[0]},${p[1]}) rotate(${rot})`)
    .attr('text-anchor', 'middle').attr('dy', '0.35em')
    .attr('font-family', '"DejaVu Sans", sans-serif')
    .attr('font-size', major ? 10 : 3)
    .attr('fill', major ? '#222' : '#aaa');
});
svg.append('text').text('17_1').attr('x', 7).attr('y', 365).attr('font-family', '"DejaVu Sans", sans-serif').attr('font-size', 8).attr('fill', '#222');

// links
const linkPath = (u1, u2, r) => {
  const p = d3.path(), a = d3.pointRadial(mapAngle(u1), r), b = d3.pointRadial(mapAngle(u2), r);
  p.moveTo(a[0], a[1]);
  p.quadraticCurveTo(0, 0, b[0], b[1]);
  return p.toString();
};
const links = circos.append('g').attr('fill', 'none');
thinLinks.forEach(([a, b]) => links.append('path').attr('d', linkPath(a, b, 153)).attr('stroke', '#cf5468').attr('stroke-width', 0.8));
lightLinks.forEach(([a, b]) => links.append('path').attr('d', linkPath(a, b, 153)).attr('stroke', '#f58b9c').attr('stroke-width', 1.1));
bundleLinks.forEach(([a, b, w]) => links.append('path').attr('d', linkPath(a, b, 153)).attr('stroke', '#f28a9a').attr('stroke-width', w));

// black spikes: a jagged base with thin bars standing on it
const spikeBase = d3.areaRadial()
  .angle((d, i) => mapAngle(i / 2))
  .innerRadius(spikeRadius(0))
  .outerRadius(d => spikeRadius(d * 0.6));
circos.append('path').attr('d', spikeBase(spikeValues)).attr('fill', '#000');
spikeValues.forEach((v, i) => {
  if (v === 0) return;
  radial(circos, mapAngle(i / 2), spikeRadius(0), spikeRadius(v)).attr('stroke', '#000').attr('stroke-width', 1.4);
});

// terminal -------------------------------------------------------
const term = svg.append('g').attr('font-family', mono);
term.append('rect').attr('x', 16).attr('y', 726).attr('width', 461).attr('height', 320).attr('fill', '#000');
term.append('rect').attr('x', 16).attr('y', 726).attr('width', 461).attr('height', 16).attr('fill', '#1c1c1c');
term.append('rect').attr('x', 18).attr('y', 742).attr('width', 459).attr('height', 12).attr('fill', '#b8141c');
term.append('rect').attr('x', 22).attr('y', 729).attr('width', 12).attr('height', 9).attr('rx', 1).attr('fill', '#8a2020').attr('stroke', '#777').attr('stroke-width', 0.7);
term.append('rect').attr('x', 21).attr('y', 744).attr('width', 4).attr('height', 4).attr('fill', '#c03030');
term.append('rect').attr('x', 25).attr('y', 744).attr('width', 4).attr('height', 4).attr('fill', '#3050c0');
term.append('rect').attr('x', 21).attr('y', 748).attr('width', 4).attr('height', 4).attr('fill', '#3050c0');
term.append('text').text('msbarker@caol-ila: ~').attr('x', 222).attr('y', 738).attr('text-anchor', 'middle')
  .attr('font-family', '"DejaVu Sans", sans-serif').attr('font-weight', 'bold').attr('font-size', 8.6).attr('fill', '#d8d8d8');
term.append('text').text('msbarker@caol-ila: ~ 80x24').attr('x', 257).attr('y', 751).attr('text-anchor', 'middle')
  .attr('font-family', '"DejaVu Sans", sans-serif').attr('font-size', 9.3).attr('fill', '#f2c8c8');
['↑', '_', '□', '×'].forEach((s, i) => {
  term.append('rect').attr('x', 414 + i * 15.5).attr('y', 728).attr('width', 14).attr('height', 12).attr('rx', 2).attr('fill', '#333');
  term.append('text').text(s).attr('x', 421 + i * 15.5).attr('y', 737).attr('text-anchor', 'middle')
    .attr('font-family', '"DejaVu Sans", sans-serif').attr('font-size', 8.5).attr('fill', '#eee');
});
term.append('rect').attr('x', 469).attr('y', 754).attr('width', 8).attr('height', 292).attr('fill', '#e8e8e8');
term.append('rect').attr('x', 469).attr('y', 880).attr('width', 8).attr('height', 160).attr('fill', '#b4bcc8');
term.append('rect').attr('x', 19).attr('y', 814).attr('width', 448).attr('height', 12).attr('fill', '#00ff00');

const termLine = (s, row, fill) => term.append('text').text(s)
  .attr('x', 18.5).attr('y', 763.2 + row * 11.98)
  .attr('xml:space', 'preserve').style('white-space', 'pre')
  .attr('font-size', 9.3).attr('fill', fill);
terminalHeader.forEach((s, i) => termLine(s, i, '#00d000'));
termLine(terminalColumns, 5, '#006000');
terminalRows.forEach((s, i) => termLine(s, 6 + i, '#00d000'));
termLine('mike@ratel:~$', 23, '#00d000');

// heat map -------------------------------------------------------
const heatColor = d3.scaleLinear().domain(heatStopRanks).range(heatStops);
const heatX = d3.scaleBand().domain(d3.range(6)).range([536, 693]).paddingInner(0.095).paddingOuter(0.03);
const heatY = d3.scaleBand().domain(heatRows).range([597.5, 597.5 + 45 * 10.12]);
svg.append('rect').attr('x', 535.5).attr('y', 596).attr('width', 157.5).attr('height', 450).attr('fill', '#000').attr('stroke', '#bbb').attr('stroke-width', 0.6);
heatColumns.forEach((col, c) => {
  svg.append('g').selectAll('rect').data(col).join('rect')
    .attr('x', heatX(c)).attr('width', heatX.bandwidth())
    .attr('y', (d, i) => heatY(i)).attr('height', heatY.bandwidth() + 0.2)
    .attr('fill', d => heatColor(d));
});

// bubbles --------------------------------------------------------
const bubbleR = d3.scaleSqrt().domain([0, 36.5]).range([0, 45.5]);
const bub = svg.append('g').attr('font-family', narrow);
const rSingle = bubbleR(bubbleShares.single), rAlpha = bubbleR(bubbleShares.alpha), rBeta = bubbleR(bubbleShares.beta);
const rMiss = bubbleR(bubbleShares.missing + bubbleShares.others);
bub.append('circle').attr('cx', 791.5).attr('cy', 67.5).attr('r', rSingle).attr('fill', '#11995f');
bub.append('circle').attr('cx', 850).attr('cy', 132).attr('r', rAlpha).attr('fill', '#1bace6');
bub.append('circle').attr('cx', 858.5).attr('cy', 94).attr('r', rBeta).attr('fill', '#55246e');
const defs = svg.append('defs');
defs.append('clipPath').attr('id', 'alphaClip').append('circle').attr('cx', 850).attr('cy', 132).attr('r', rAlpha);
defs.append('filter').attr('id', 'washBlur').attr('x', '-20%').attr('y', '-20%').attr('width', '140%').attr('height', '140%')
  .append('feGaussianBlur').attr('stdDeviation', 7);
bub.append('circle').attr('cx', 858.5).attr('cy', 94).attr('r', rBeta).attr('fill', '#ed1c24').attr('clip-path', 'url(#alphaClip)');
const pieGen = d3.pie().sort(null).startAngle(Math.PI / 2).endAngle(Math.PI / 2 + 2 * Math.PI);
const pieArc = d3.arc().innerRadius(0).outerRadius(rMiss);
const missG = bub.append('g').attr('transform', 'translate(770,167)');
missG.selectAll('path').data(pieGen([bubbleShares.others, bubbleShares.missing])).join('path')
  .attr('d', pieArc).attr('fill', '#fff').attr('stroke', '#222').attr('stroke-width', 0.8);
bub.append('circle').attr('cx', 861).attr('cy', 107).attr('r', 2).attr('fill', '#fff');
bub.append('line').attr('x1', 861).attr('y1', 107).attr('x2', 885).attr('y2', 107).attr('stroke', '#222').attr('stroke-width', 0.7);
const bubText = (s, x, y, size, len, fill, italic) => bub.append('text').text(s)
  .attr('x', x).attr('y', y).attr('text-anchor', 'middle').attr('font-size', size)
  .attr('fill', fill).attr('textLength', len).attr('lengthAdjust', 'spacingAndGlyphs')
  .attr('font-style', italic ? 'italic' : 'normal');
bubText('Single copy', 791, 66, 16, 56, '#12261c');
bubText('36.5%', 791, 80, 10.5, 23, '#12261c', true);
bubText('WGD-α', 850, 132, 15, 36, '#12263a');
bubText('20.3%', 850, 148, 10.5, 23, '#12263a', true);
bubText('6.9%', 859, 84.5, 9, 17, '#e8c8e8', true);
bubText('WGD-β', 859, 100.5, 13.5, 36, '#f4e8f4');
bubText('4.1%', 898, 111, 10.5, 18, '#222', true);
bubText('Missing / Others', 768, 165, 15.5, 79, '#111');
bubText('31.5%', 755, 180, 10.5, 23, '#111', true);
bubText('8.9%', 786, 180, 10.5, 19, '#111', true);

// network --------------------------------------------------------
defs.append('clipPath').attr('id', 'netClip').append('rect').attr('x', 715).attr('y', 0).attr('width', 591).attr('height', 325);
const netX = d3.scaleLinear().domain([715, 1306]).range([715, 1306]);
const netY = d3.scaleLinear().domain([0, 326]).range([0, 326]);
const net = svg.append('g').attr('clip-path', 'url(#netClip)');
const washLine = d3.line().x(d => netX(d[0])).y(d => netY(d[1])).curve(d3.curveCatmullRomClosed);
const wash = net.append('g').attr('filter', 'url(#washBlur)');
wash.append('path').attr('d', washLine(netWash)).attr('fill', '#bfe8de').attr('opacity', 0.55);
wash.append('path').attr('d', washLine(netLobeRight)).attr('fill', '#49b894').attr('opacity', 0.5);
wash.append('path').attr('d', washLine(netLobeTop)).attr('fill', '#48bda0').attr('opacity', 0.42);
wash.append('path').attr('d', washLine(netLobeSky)).attr('fill', '#58c4ea').attr('opacity', 0.5);
const bendPath = (x1, y1, x2, y2, bend) => {
  const p = d3.path(), mx = (x1 + x2) / 2, my = (y1 + y2) / 2;
  p.moveTo(netX(x1), netY(y1));
  p.quadraticCurveTo(netX(mx - (y2 - y1) * bend), netY(my + (x2 - x1) * bend), netX(x2), netY(y2));
  return p.toString();
};
const netEdges = net.append('g').attr('fill', 'none').attr('stroke-linecap', 'round');
netArcs.forEach(([x1, y1, x2, y2, b, c]) => {
  [1, 0.85, 0.7, 1.15, 1.3].forEach(f => {
    netEdges.append('path').attr('d', bendPath(x1, y1, x2, y2, b * f)).attr('stroke', c).attr('stroke-width', 0.6).attr('opacity', 0.55);
  });
});
netSatellites.forEach(([x1, y1, x2, y2, b, c]) => {
  netEdges.append('path').attr('d', bendPath(x1, y1, x2, y2, b)).attr('stroke', c).attr('stroke-width', 0.7).attr('opacity', 0.8);
});
netGroups.forEach((g, gi) => {
  const h = netHubs[g.hub], alt = netHubs[g.alt];
  const other = netGroups[(gi + 3) % netGroups.length].nodes;
  g.nodes.forEach((n, i) => {
    const flip = i % 2 ? 0.16 : -0.16;
    netEdges.append('path').attr('d', bendPath(n[0], n[1], h[0], h[1], flip)).attr('stroke', g.col[0]).attr('stroke-width', 0.7).attr('opacity', 0.7);
    netEdges.append('path').attr('d', bendPath(n[0], n[1], alt[0], alt[1], -flip * 0.8)).attr('stroke', g.col[1]).attr('stroke-width', 0.6).attr('opacity', 0.55);
    netEdges.append('path').attr('d', bendPath(n[0], n[1], h[0], h[1], flip * 2.2)).attr('stroke', '#8ed6d0').attr('stroke-width', 0.5).attr('opacity', 0.6);
    // neighbours in the same module, and one long edge to another module
    [1, 3, 5, 8].forEach(k => {
      const m = g.nodes[(i + k) % g.nodes.length];
      netEdges.append('path').attr('d', bendPath(n[0], n[1], m[0], m[1], flip)).attr('stroke', g.col[k % 2]).attr('stroke-width', 0.5).attr('opacity', 0.6);
    });
    const far = other[i % other.length];
    netEdges.append('path').attr('d', bendPath(n[0], n[1], far[0], far[1], flip * 1.2)).attr('stroke', i % 5 === 0 ? '#cf9a9a' : g.col[1]).attr('stroke-width', 0.5).attr('opacity', 0.5);
  });
});
const netDots = net.append('g');
netGroups.map(g => g.nodes).concat([netSatelliteDots]).forEach(nodes => {
  netDots.selectAll(null).data(nodes).join('circle')
    .attr('cx', d => netX(d[0])).attr('cy', d => netY(d[1])).attr('r', 1.5)
    .attr('fill', d => netCats[d[2]]).attr('stroke', d => d[2] === 0 ? '#3a5a50' : 'none').attr('stroke-width', 0.5);
});

// tree -----------------------------------------------------------
const treeX = d3.scaleLinear().domain([750, 1306]).range([750, 1306]);
const treeY = d3.scaleLinear().domain([340, 740]).range([340, 740]);
const tree = svg.append('g');
const hullLine = d3.line().x(d => treeX(d[0])).y(d => treeY(d[1])).curve(d3.curveCatmullRom.alpha(0.5));
tree.append('ellipse').attr('cx', treeX(846)).attr('cy', treeY(600)).attr('rx', 91).attr('ry', 137.5)
  .attr('fill', '#eef6ea').attr('stroke', '#9fdc7e').attr('stroke-width', 1.5);
[hullTop, hullRight].forEach(h => tree.append('path').attr('d', hullLine(h)).attr('fill', '#eef6ea').attr('stroke', '#9fdc7e').attr('stroke-width', 1.5));
tree.append('g').selectAll('line').data(treeEdges).join('line')
  .attr('x1', d => treeX(d[0])).attr('y1', d => treeY(d[1])).attr('x2', d => treeX(d[2])).attr('y2', d => treeY(d[3]))
  .attr('stroke', '#000').attr('stroke-width', 1.2).attr('stroke-linecap', 'round');
tree.append('g').selectAll('circle').data(treeNodes).join('circle')
  .attr('cx', d => treeX(d[0])).attr('cy', d => treeY(d[1])).attr('r', 4)
  .attr('fill', d => d[2]);
treeNodes.filter(d => d[3]).forEach(d => tree.append('text').text(d[3]).attr('x', treeX(d[0])).attr('y', treeY(d[1]) + 2.5)
  .attr('text-anchor', 'middle').attr('font-family', 'Liberation Sans, sans-serif').attr('font-weight', 'bold').attr('font-size', 7).attr('fill', '#143'));
tree.append('g').selectAll('text').data(treeLabels).join('text').text(d => d[0])
  .attr('transform', d => `translate(${treeX(d[1])},${treeY(d[2])}) rotate(${d[3]})`)
  .attr('dy', '0.35em')
  .attr('font-family', '"Liberation Sans", sans-serif').attr('font-weight', 'bold').attr('font-size', 5.6)
  .attr('fill', d => d[4]);
tree.append('g').selectAll('text').data(grfLabels).join('text').text(d => d[0])
  .attr('x', d => treeX(d[1])).attr('y', d => treeY(d[2]) + 3)
  .attr('font-family', '"Liberation Serif", serif').attr('font-size', 8.2).attr('fill', '#111');
tree.append('line').attr('x1', 1001).attr('x2', 1053).attr('y1', 731).attr('y2', 731).attr('stroke', '#333').attr('stroke-width', 0.8);
tree.append('text').text('0.7').attr('x', 1027).attr('y', 738).attr('text-anchor', 'middle').attr('font-size', 3.5).attr('font-family', '"Liberation Sans", sans-serif').attr('fill', '#555');
tree.append('rect').attr('x', 807.5).attr('y', 364.5).attr('width', 71.5).attr('height', 75).attr('fill', '#fff').attr('stroke', '#777').attr('stroke-width', 1);
const legendY = d3.scalePoint().domain(d3.range(5)).range([376.7, 425.7]);
legendEntries.forEach((d, i) => {
  tree.append('circle').attr('cx', 825.5).attr('cy', legendY(i)).attr('r', 4).attr('fill', d[1]);
  tree.append('text').text(d[0]).attr('x', 839).attr('y', legendY(i) + 3).attr('font-family', '"Liberation Serif", serif').attr('font-size', 9.5).attr('fill', '#111');
});

// manhattan ------------------------------------------------------
const manX = d3.scaleLinear().domain([0, 558]).range([748, 1306]);
const manY = d3.scaleLinear().domain([0, 31]).range([1046, 750]);
const solidTop = t => t * 0.35 + 10.4;   // the dots merge into a solid block below this height
const man = svg.append('g');
chromSpans.forEach(([a, b], i) => {
  const tops = chromTops[i], step = (b - a) / tops.length;
  const area = d3.area().x((d, k) => manX(a + step * k + step / 2)).y0(manY(0)).y1(d => manY(solidTop(d))).curve(d3.curveStep);
  man.append('rect').attr('x', manX(a)).attr('width', manX(b) - manX(a)).attr('y', manY(15)).attr('height', manY(0) - manY(15)).attr('fill', chromColors[i]);
  man.append('path').attr('d', area(tops)).attr('fill', chromColors[i]);
  const g = man.append('g').attr('fill', chromColors[i]);
  // stacks of dots above the block, two staggered passes over the column tops
  tops.forEach((t, k) => {
    [[k + 0.25, t], [k + 0.75, tops[(k * 7 + 3) % 12] - 0.8]].forEach(([col, top]) => {
      let v = solidTop(t) - 0.3, gap = 0.32, row = 0;
      while (v < top + 1.2) {
        g.append('circle').attr('cx', manX(a + step * col) + [0, 0.9, -0.7, 0.4][row % 4]).attr('cy', manY(v)).attr('r', 0.85);
        v += gap; gap *= 1.14; row += 1;
      }
    });
    man.append('circle').attr('cx', manX(a + step * (k + 0.5))).attr('cy', manY(solidTop(t) - 1.1 - (k % 3) * 0.5)).attr('r', 0.8).attr('fill', '#fff').attr('opacity', 0.85);
  });
  g.selectAll('circle.top').data(chromDots[i]).join('circle')
    .attr('cx', d => manX(a + (b - a) * d[0] / 100)).attr('cy', d => manY(d[1])).attr('r', 0.9);
});
</script>
</body>
</html>
